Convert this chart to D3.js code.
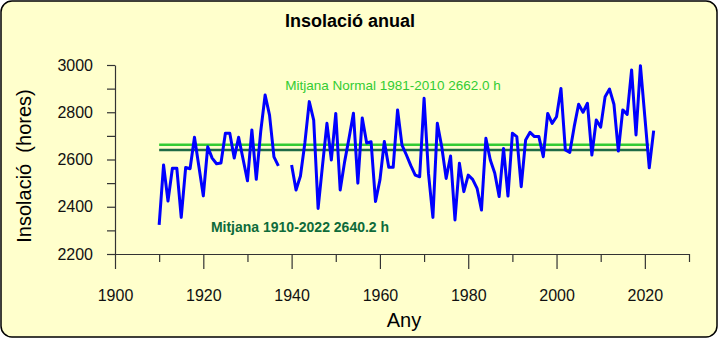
<!DOCTYPE html>
<html>
<head>
<meta charset="utf-8">
<script src="https://cdn.jsdelivr.net/npm/d3@7"></script>
<style>
  body { margin: 0; background: #fff; }
  svg { display: block; }
</style>
</head>
<body>
<svg id="chart" width="719" height="339"></svg>
<script>
// annual sunshine hours, 1910-2022 (1938-1939 missing)
const years = d3.range(1910, 2023)
const hours = [
  2323, 2577, 2424, 2563, 2563, 2355, 2566, 2561, 2694, 2570,
  2446, 2654, 2606, 2582, 2585, 2711, 2711, 2606, 2694, 2602,
  2510, 2725, 2516, 2718, 2873, 2788, 2611, 2573, null, null,
  2577, 2471, 2530, 2670, 2845, 2767, 2393, 2575, 2753, 2598,
  2795, 2471, 2590, 2690, 2796, 2500, 2776, 2670, 2675, 2422,
  2513, 2676, 2567, 2567, 2810, 2661, 2619, 2574, 2534, 2527,
  2859, 2540, 2355, 2753, 2654, 2520, 2615, 2344, 2584, 2464,
  2534, 2516, 2478, 2386, 2690, 2598, 2543, 2443, 2647, 2445,
  2711, 2697, 2485, 2683, 2715, 2697, 2697, 2612, 2795, 2753,
  2781, 2901, 2640, 2630, 2739, 2834, 2800, 2838, 2619, 2767,
  2737, 2866, 2898, 2834, 2636, 2810, 2791, 2979, 2704, 2997,
  2780, 2565, 2722
]
const meanAll = 2640.2
const meanNormal = 2662.0
const meanRange = [1910, 2021]
const xTicks = d3.range(1900, 2031, 10)
const yTicks = d3.range(2200, 3001, 100)

const svg = d3.select('#chart')
const narrow = '"Liberation Sans Narrow", "Liberation Sans", Arial, sans-serif'
const sans = '"Liberation Sans", Arial, sans-serif'

// panel
svg.append('rect')
  .attr('x', 1).attr('y', 1)
  .attr('width', 716).attr('height', 336)
  .attr('rx', 11).attr('ry', 11)
  .attr('fill', '#ffffcc')
  .attr('stroke', '#000')
  .attr('stroke-width', 1.5)

const x = d3.scaleLinear().domain([1900, 2030]).range([115, 689])
const y = d3.scaleLinear().domain([2200, 3000]).range([254, 65])

// y axis
const yAxis = svg.append('g')
  .attr('transform', `translate(${x(1900)},0)`)
  .call(d3.axisLeft(y)
    .tickValues(yTicks)
    .tickSize(8)
    .tickSizeOuter(0)
    .tickPadding(14)
    .tickFormat(d => d % 200 === 0 ? d : ''))
yAxis.select('.domain').attr('stroke', '#333').attr('stroke-width', 1.2)
yAxis.selectAll('.tick line').attr('stroke', '#333').attr('stroke-width', 1.2)
yAxis.selectAll('.tick text')
  .attr('font-family', narrow).attr('font-size', 16).attr('fill', '#111')

// x axis
const xAxis = svg.append('g')
  .attr('transform', `translate(0,${y(2200)})`)
  .call(d3.axisBottom(x)
    .tickValues(xTicks)
    .tickSize(14)
    .tickSizeOuter(0)
    .tickPadding(22)
    .tickFormat(d => d % 20 === 0 ? d : ''))
xAxis.select('.domain').attr('stroke', '#333').attr('stroke-width', 1.2)
xAxis.selectAll('.tick line')
  .attr('stroke', '#333').attr('stroke-width', 1.2)
  .attr('y2', d => d % 20 === 0 ? 15 : 8)
xAxis.selectAll('.tick text')
  .attr('font-family', narrow).attr('font-size', 16).attr('fill', '#111')

// mean lines
svg.append('line')
  .attr('x1', x(meanRange[0])).attr('x2', x(meanRange[1]))
  .attr('y1', y(meanNormal)).attr('y2', y(meanNormal))
  .attr('stroke', '#33cc33').attr('stroke-width', 2.5)
svg.append('line')
  .attr('x1', x(meanRange[0])).attr('x2', x(meanRange[1]))
  .attr('y1', y(meanAll)).attr('y2', y(meanAll))
  .attr('stroke', '#1e6b45').attr('stroke-width', 2.5)

// series
const pts = years.map((yr, i) => ({yr, v: hours[i]}))
const line = d3.line()
  .defined(d => d.v != null)
  .x(d => x(d.yr))
  .y(d => y(d.v))
svg.append('path')
  .datum(pts)
  .attr('d', line)
  .attr('fill', 'none')
  .attr('stroke', '#0000ff')
  .attr('stroke-width', 3)
  .attr('stroke-linejoin', 'round')

// annotations
svg.append('text')
  .attr('x', 393).attr('y', 90)
  .attr('text-anchor', 'middle')
  .attr('font-family', sans).attr('font-size', 13.5)
  .attr('fill', '#33cc33')
  .text(`Mitjana Normal 1981-2010 ${meanNormal.toFixed(1)} h`)
svg.append('text')
  .attr('x', 300).attr('y', 232)
  .attr('text-anchor', 'middle')
  .attr('font-family', sans).attr('font-size', 14).attr('font-weight', 'bold')
  .attr('fill', '#0e6b3a')
  .text(`Mitjana 1910-2022 ${meanAll.toFixed(1)} h`)

// titles
svg.append('text')
  .attr('x', 350).attr('y', 27)
  .attr('text-anchor', 'middle')
  .attr('font-family', narrow).attr('font-size', 18).attr('font-weight', 'bold')
  .text('Insolació anual')
svg.append('text')
  .attr('x', 404).attr('y', 327)
  .attr('text-anchor', 'middle')
  .attr('font-family', narrow).attr('font-size', 20)
  .text('Any')
svg.append('text')
  .attr('transform', 'translate(31,166) rotate(-90)')
  .attr('text-anchor', 'middle')
  .attr('font-family', narrow).attr('font-size', 20)
  .attr('xml:space', 'preserve')
  .text('Insolació  (hores)')
</script>
</body>
</html>
